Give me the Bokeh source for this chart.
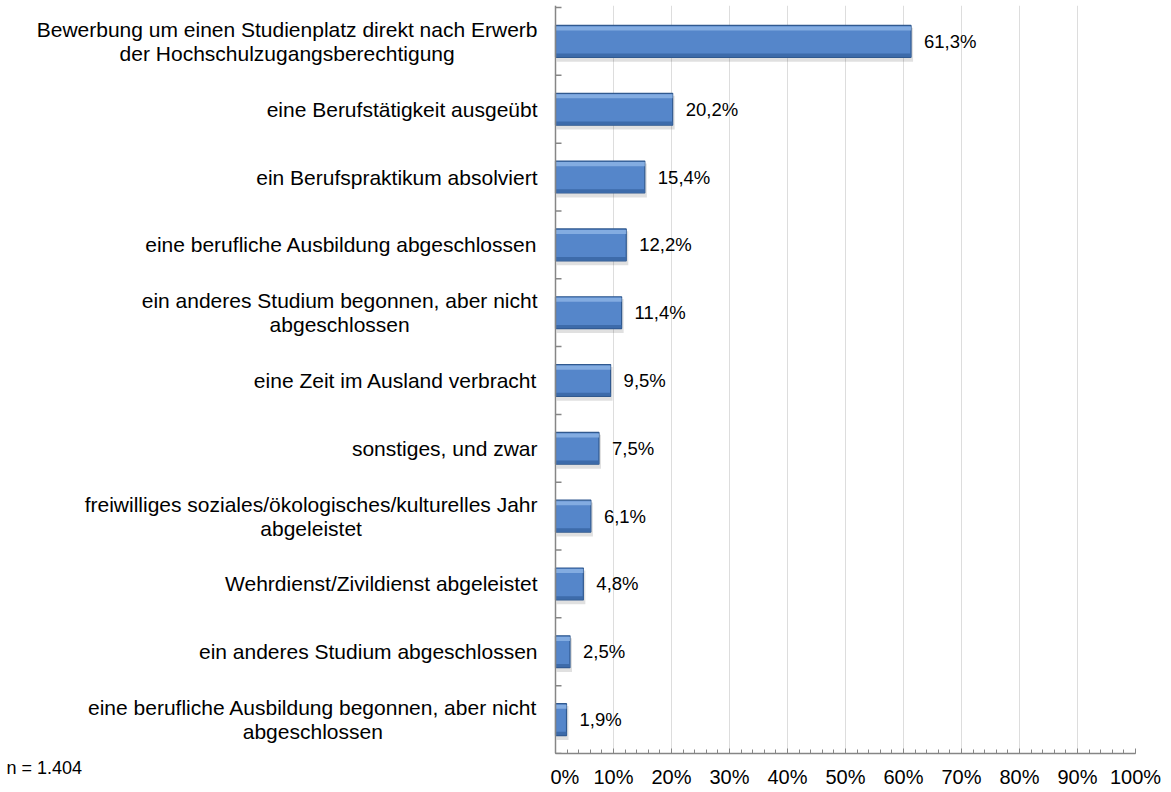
from bokeh.plotting import figure
from bokeh.models import FixedTicker, Range1d, Span, ColumnDataSource, Title
from bokeh.layouts import row
from bokeh.core.properties import value
from bokeh.embed import file_html
from bokeh.resources import INLINE

categories = [
    "Bewerbung um einen Studienplatz direkt nach Erwerb\nder Hochschulzugangsberechtigung",
    "eine Berufstätigkeit ausgeübt",
    "ein Berufspraktikum absolviert",
    "eine berufliche Ausbildung abgeschlossen",
    "ein anderes Studium begonnen, aber nicht\nabgeschlossen",
    "eine Zeit im Ausland verbracht",
    "sonstiges, und zwar",
    "freiwilliges soziales/ökologisches/kulturelles Jahr\nabgeleistet",
    "Wehrdienst/Zivildienst abgeleistet",
    "ein anderes Studium abgeschlossen",
    "eine berufliche Ausbildung begonnen, aber nicht\nabgeschlossen",
]
values = [61.3, 20.2, 15.4, 12.2, 11.4, 9.5, 7.5, 6.1, 4.8, 2.5, 1.9]
value_labels = ["61,3%", "20,2%", "15,4%", "12,2%", "11,4%", "9,5%", "7,5%", "6,1%", "4,8%", "2,5%", "1,9%"]
x_ticks = [0, 10, 20, 30, 40, 50, 60, 70, 80, 90, 100]
x_tick_labels = ["0%", "10%", "20%", "30%", "40%", "50%", "60%", "70%", "80%", "90%", "100%"]
note = "n = 1.404"

FONT = "Liberation Sans"
CAT_FS = 21.0
n = len(categories)
idx = list(range(n))

# ---- layout geometry (pixels) ----
H = 790
LEFT_W = 550          # width of label panel
MAIN_W = 618
AX_TOP = 7            # first category boundary
AX_BOT = 755          # x axis line
FRAME_TOP = AX_TOP - 2
BAND = (AX_BOT - AX_TOP) / n
PX_PER_UNIT = 5.8
ZERO_X = 555          # pixel of 0 %
LABEL_RIGHT = 537     # right edge of category labels
LINE_GAP = 12         # half distance between two label lines

# Arial / Liberation Sans advance widths (per 1000 em)
W = dict(zip("abcdefghijklmnopqrstuvwxyz",
             [556, 556, 500, 556, 556, 278, 556, 556, 222, 222, 500, 222, 833,
              556, 556, 556, 556, 333, 500, 278, 556, 500, 722, 500, 500, 500]))
W.update(dict(zip("ABCDEFGHIJKLMNOPQRSTUVWXYZ",
                  [667, 667, 722, 722, 667, 611, 778, 722, 278, 500, 667, 556, 833,
                   722, 778, 667, 778, 722, 667, 611, 722, 667, 944, 667, 667, 611])))
W.update({" ": 278, ",": 278, ".": 278, "/": 278, "ä": 556, "ö": 556, "ü": 556, "%": 889})


def text_width(s, fs):
    return sum(W.get(ch, 556) for ch in s) * fs / 1000.0


y_range_main = Range1d(10.5, -0.5 - (AX_TOP - FRAME_TOP) / BAND)

# ---- label panel ----
lx, ly, lt, lal = [], [], [], []
for i, c in enumerate(categories):
    lines = c.split("\n")
    if len(lines) == 1:
        lx.append(LABEL_RIGHT); ly.append(i); lt.append(c); lal.append("right")
    else:
        w1 = text_width(lines[0], CAT_FS)
        lx.append(LABEL_RIGHT); ly.append(i - LINE_GAP / BAND); lt.append(lines[0]); lal.append("right")
        lx.append(LABEL_RIGHT - w1 / 2); ly.append(i + LINE_GAP / BAND); lt.append(lines[1]); lal.append("center")

left = figure(width=LEFT_W, height=H, output_backend="svg", toolbar_location=None,
              x_range=Range1d(0, LEFT_W), y_range=y_range_main,
              x_axis_location=None, y_axis_location=None,
              min_border_left=0, min_border_right=0,
              min_border_top=FRAME_TOP, min_border_bottom=H - AX_BOT)
left.outline_line_color = None
left.grid.grid_line_color = None
left.text(x=lx, y=ly, text=lt, text_align=lal, text_baseline="middle",
          text_font=value(FONT), text_font_size=f"{CAT_FS}px", text_color="black")
left.add_layout(Title(text=note, align="left", offset=6, standoff=4,
                      text_font=FONT, text_font_size="18px", text_font_style="normal",
                      text_color="black"), "below")

# ---- main chart ----
src = ColumnDataSource(dict(
    y=idx,
    v=values,
    lab=value_labels,
    y_sh=[i + 0.05 for i in idx],
    v_sh=[v + 0.35 for v in values],
    y_hi=[i - 0.19 for i in idx],
    y_lo=[i + 0.205 for i in idx],
))

frame_left_px = LEFT_W
frame_right_px = ZERO_X + 100 * PX_PER_UNIT
p = figure(width=MAIN_W, height=H, output_backend="svg", toolbar_location=None,
           x_range=Range1d(-(ZERO_X - frame_left_px) / PX_PER_UNIT, 100),
           y_range=y_range_main,
           y_axis_location=None,
           min_border_left=0, min_border_right=int(LEFT_W + MAIN_W - frame_right_px),
           min_border_top=FRAME_TOP, min_border_bottom=H - AX_BOT)
p.outline_line_color = None

p.xgrid.ticker = FixedTicker(ticks=x_ticks)
p.xgrid.grid_line_color = "#DDDDDD"
p.ygrid.grid_line_color = None

# category boundary ticks on the vertical axis
p.ray(x=[0] * (n + 1), y=[i - 0.5 for i in range(n + 1)], length=6, length_units="screen",
      angle=0, line_color="#868686", line_width=1.5)

# shadow
p.hbar(y="y_sh", left=0.2, right="v_sh", height=0.5, source=src,
       fill_color="#000000", fill_alpha=0.12, line_color=None)
# main bar
p.hbar(y="y", left=0, right="v", height=0.47, source=src,
       fill_color="#5586CA", line_color="#30598F", line_width=1.2)
# highlight
p.hbar(y="y_hi", left=0.1, right="v", height=0.06, source=src,
       fill_color="#8FB5E6", fill_alpha=0.8, line_color=None)
# bottom dark
p.hbar(y="y_lo", left=0.1, right="v", height=0.05, source=src,
       fill_color="#3B68A6", fill_alpha=0.9, line_color=None)

p.add_layout(Span(location=0, dimension="height", line_color="#868686", line_width=1.5))

p.text(x="v", y="y", text="lab", source=src, x_offset=13,
       text_align="left", text_baseline="middle",
       text_font=value(FONT), text_font_size="18.5px", text_color="black")

xa = p.xaxis[0]
xa.bounds = (0, 100)
xa.ticker = FixedTicker(ticks=x_ticks, minor_ticks=list(range(0, 101, 2)))
xa.major_label_overrides = {t: l for t, l in zip(x_ticks, x_tick_labels)}
xa.axis_line_color = "#868686"
xa.axis_line_width = 1.5
xa.major_tick_line_color = "#868686"
xa.minor_tick_line_color = "#868686"
xa.major_tick_in = 5
xa.major_tick_out = 0
xa.minor_tick_in = 4
xa.minor_tick_out = 0
xa.major_label_standoff = 12
xa.major_label_text_font = FONT
xa.major_label_text_font_size = "20px"
xa.major_label_text_color = "black"

layout = row(left, p)
open("out.html", "w").write(file_html(layout, INLINE))
